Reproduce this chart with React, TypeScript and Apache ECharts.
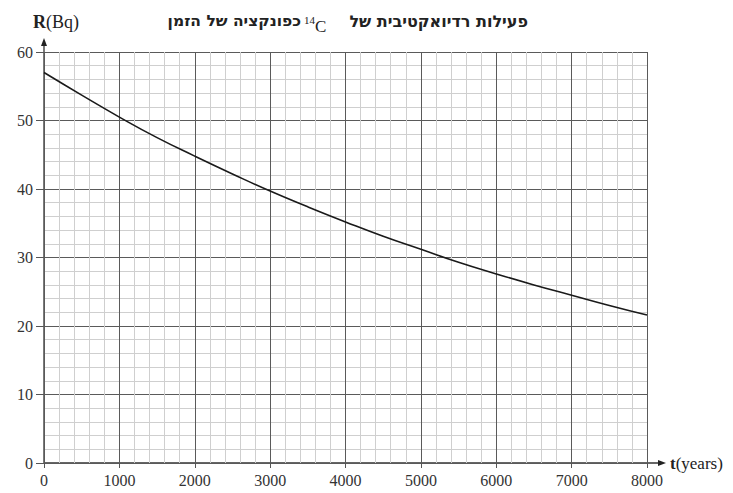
import React, { useEffect, useRef } from "react";
import * as echarts from "echarts";

const years = [0, 500, 1000, 1500, 2000, 2500, 3000, 3500, 4000, 4500, 5000, 5500, 6000, 6500, 7000, 7500, 8000];
const activity = [57.0, 53.7, 50.5, 47.5, 44.8, 42.2, 39.7, 37.4, 35.2, 33.1, 31.2, 29.3, 27.6, 26.0, 24.5, 23.0, 21.6];
const xTicks = [0, 1000, 2000, 3000, 4000, 5000, 6000, 7000, 8000];
const yTicks = [0, 10, 20, 30, 40, 50, 60];
const titleRight = "פעילות רדיואקטיבית של";
const titleLeft = "כפונקציה של הזמן";

const FONT = "'Liberation Serif', 'DejaVu Serif', serif";
const HFONT = "'DejaVu Sans', 'Liberation Sans', sans-serif";

export default function App() {
  const ref = useRef<HTMLDivElement>(null);
  useEffect(() => {
    if (!ref.current) return;
    const chart = echarts.init(ref.current, null, { renderer: "svg" });
    const L = 44, R = 647, T = 52, B = 463;
    chart.setOption({
      animation: false,
      backgroundColor: "#fff",
      grid: { left: L, right: 733 - R, top: T, bottom: 493 - B, containLabel: false },
      xAxis: {
        type: "value",
        min: xTicks[0],
        max: xTicks[xTicks.length - 1],
        interval: 1000,
        axisLine: { show: false },
        axisTick: { show: true, length: 5, lineStyle: { color: "#555" } },
        axisLabel: { color: "#333", fontFamily: FONT, fontSize: 16, margin: 9, formatter: (v: number) => String(v) },
        splitLine: { show: true, lineStyle: { color: "#5a5a5a", width: 1 } },
        minorTick: { show: false, splitNumber: 5 },
        minorSplitLine: { show: true, lineStyle: { color: "#cfcfcf", width: 1 } },
      },
      yAxis: {
        type: "value",
        min: yTicks[0],
        max: yTicks[yTicks.length - 1],
        interval: 10,
        axisLine: { show: false },
        axisTick: { show: true, length: 8, lineStyle: { color: "#555" } },
        axisLabel: { color: "#333", fontFamily: FONT, fontSize: 16, margin: 11, formatter: (v: number) => String(v) },
        splitLine: { show: true, lineStyle: { color: "#5a5a5a", width: 1 } },
        minorTick: { show: false, splitNumber: 5 },
        minorSplitLine: { show: true, lineStyle: { color: "#cfcfcf", width: 1 } },
      },
      series: [
        {
          type: "line",
          data: years.map((y, i) => [y, activity[i]]),
          smooth: true,
          showSymbol: false,
          lineStyle: { color: "#1a1a1a", width: 1.6 },
        },
      ],
      graphic: [
        { type: "line", shape: { x1: L, y1: B, x2: 662, y2: B }, style: { stroke: "#333", lineWidth: 1.3 } },
        { type: "polygon", shape: { points: [[666, B], [658, B - 3], [658, B + 3]] }, style: { fill: "#222" } },
        { type: "line", shape: { x1: L, y1: B, x2: L, y2: 42 }, style: { stroke: "#333", lineWidth: 1.3 } },
        { type: "polygon", shape: { points: [[L, 38], [L - 3, 46], [L + 3, 46]] }, style: { fill: "#222" } },
        {
          type: "text", x: 670, y: B, style: {
            text: "{b|t}(years)", fontFamily: FONT, fontSize: 17, fill: "#222", verticalAlign: "middle",
            rich: { b: { fontWeight: "bold", fontFamily: FONT, fontSize: 17 } },
          },
        },
        {
          type: "text", x: 33, y: 22, style: {
            text: "{b|R}(Bq)", fontFamily: FONT, fontSize: 18, fill: "#222", verticalAlign: "middle",
            rich: { b: { fontWeight: "bold", fontFamily: FONT, fontSize: 18 } },
          },
        },
        {
          type: "text", x: 528, y: 21, style: {
            text: titleRight, fontFamily: HFONT, fontSize: 16, fontWeight: "bold", fill: "#222",
            align: "right", verticalAlign: "middle",
          },
        },
        {
          type: "text", x: 304, y: 20, style: {
            text: "14", fontFamily: FONT, fontSize: 11, fill: "#222", align: "left", verticalAlign: "middle",
          },
        },
        {
          type: "text", x: 315, y: 26, style: {
            text: "C", fontFamily: FONT, fontSize: 17, fill: "#222", align: "left", verticalAlign: "middle",
          },
        },
        {
          type: "text", x: 301, y: 21, style: {
            text: titleLeft, fontFamily: HFONT, fontSize: 15.5, fontWeight: "bold", fill: "#222",
            align: "right", verticalAlign: "middle",
          },
        },
      ],
    });
    return () => chart.dispose();
  }, []);
  return <div ref={ref} style={{ width: 733, height: 493, position: "absolute", left: 0, top: 0 }} />;
}
